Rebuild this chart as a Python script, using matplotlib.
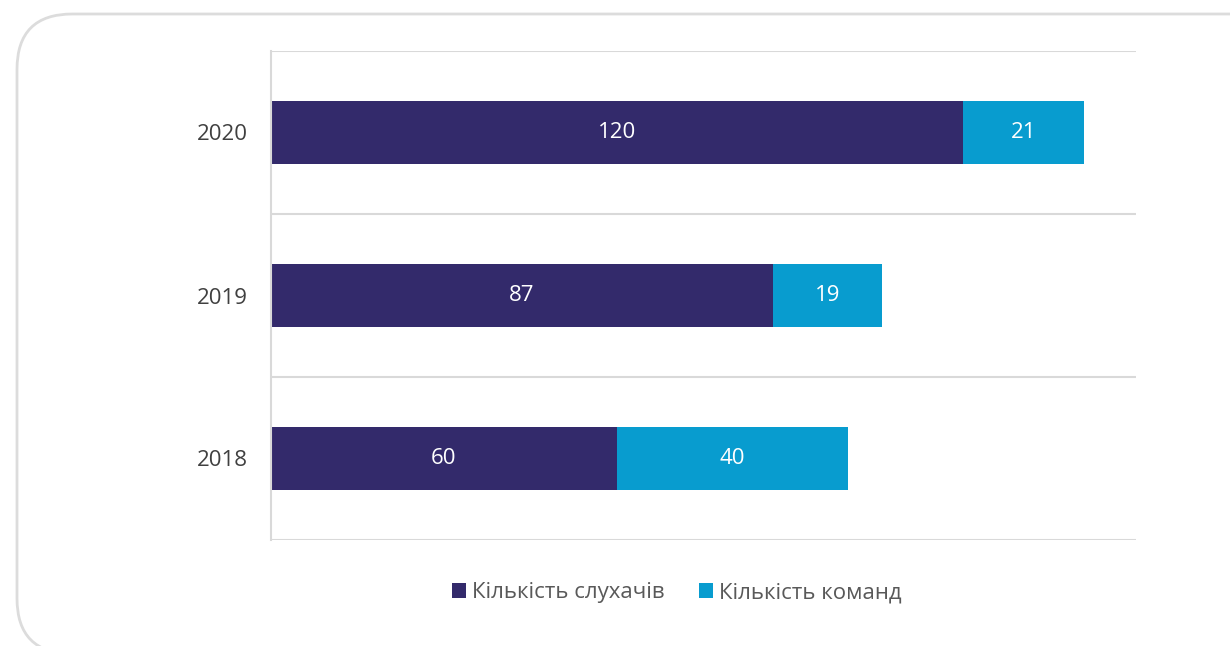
import matplotlib.pyplot as plt
from matplotlib.patches import FancyBboxPatch

years = ["2018", "2019", "2020"]
listeners = [60, 87, 120]
teams = [40, 19, 21]
series_names = ["Кількість слухачів", "Кількість команд"]
colors = ["#332a6b", "#089ccf"]

plt.rcParams['font.family'] = ['Open Sans', 'DejaVu Sans']

fig = plt.figure(figsize=(12.3, 6.46), dpi=100)

# rounded frame around the chart (cut off at right and bottom)
frame = FancyBboxPatch((17 / 1230, -0.012), 1.2, 0.012 + (646 - 14) / 646,
                       boxstyle="round,pad=0,rounding_size=0.045",
                       transform=fig.transFigure, fill=False,
                       edgecolor="#dcdcdc", linewidth=2, mutation_aspect=1230 / 646)
fig.patches.append(frame)

ax = fig.add_axes([271 / 1230, (646 - 540) / 646, (1136 - 271) / 1230, (540 - 51) / 646])

y = range(len(years))
b1 = ax.barh(y, listeners, height=0.39, color=colors[0], label=series_names[0])
b2 = ax.barh(y, teams, left=listeners, height=0.39, color=colors[1], label=series_names[1])
ax.bar_label(b1, label_type="center", color="white", fontsize=16)
ax.bar_label(b2, label_type="center", color="white", fontsize=16)

ax.set_xlim(0, 150)
ax.set_ylim(-0.5, 2.5)
ax.set_yticks(list(y))
ax.set_yticklabels(years, fontsize=16, color="#404040")
ax.set_xticks([])
ax.tick_params(axis="y", length=0, pad=16.5)

for yy in [-0.5, 0.5, 1.5, 2.5]:
    ax.axhline(yy, color="#d9d9d9", linewidth=1.5, zorder=0)
for s in ["top", "right", "bottom"]:
    ax.spines[s].set_visible(False)
ax.spines["left"].set_color("#d9d9d9")
ax.spines["left"].set_linewidth(1.5)

ax.legend(loc="center", bbox_to_anchor=(0.469, -0.108), ncol=2, frameon=False,
          fontsize=16, labelcolor="#595959", handlelength=0.63, handleheight=0.63,
          handletextpad=0.27, columnspacing=1.58)

fig.savefig("out.png", dpi=100)
plt.close()
